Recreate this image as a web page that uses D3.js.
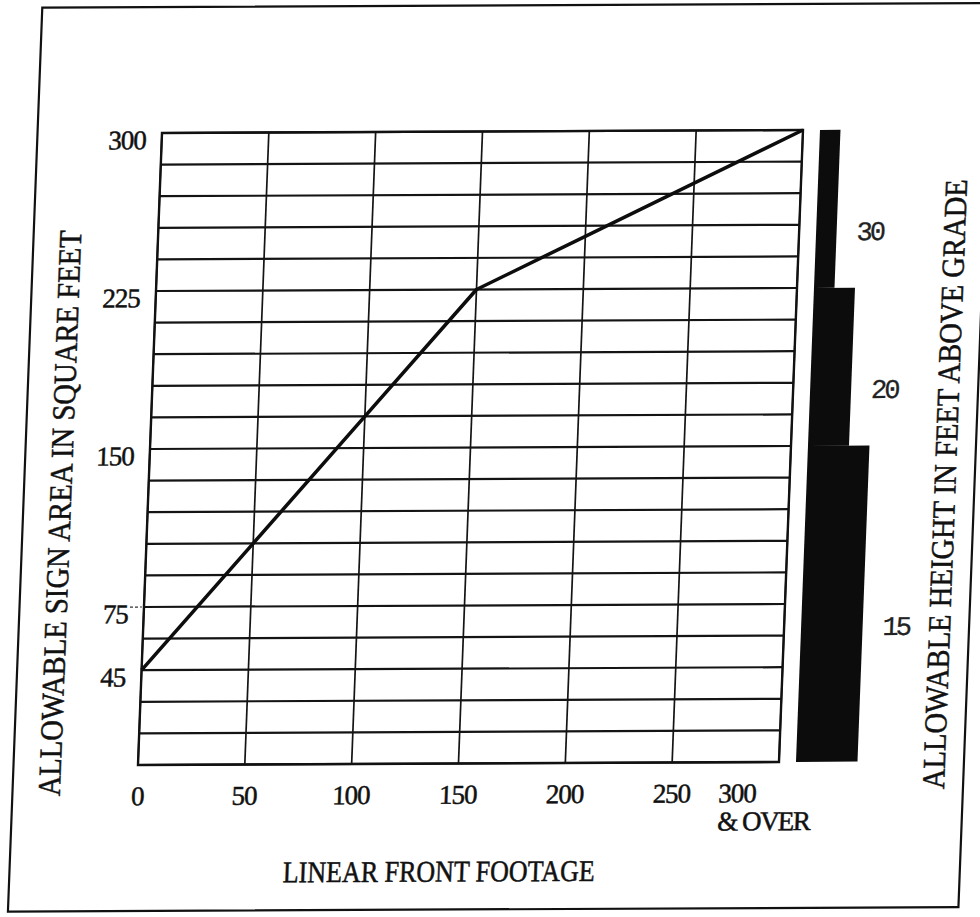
<!DOCTYPE html>
<html>
<head>
<meta charset="utf-8">
<script src="https://cdn.jsdelivr.net/npm/d3@7"></script>
<style>
  html, body { margin: 0; padding: 0; background: #fff; }
  svg { display: block; }
</style>
</head>
<body>
<div id="chart"></div>
<script>
// sign area allowed for a given linear front footage
const footage = [0, 50, 100, 150, 200, 250, 300];
const signArea = [45, 105, 165, 225, 250, 275, 300];

const xTicks = [0, 50, 100, 150, 200, 250, 300];
const yTicks = [45, 75, 150, 225, 300];

// allowable height bar (area range -> height label, relative bar width)
const heightFrom = [225, 150, 0];
const heightTo = [300, 225, 150];
const heightLabels = ["30", "20", "15"];
const heightWidthUnits = [1, 2, 3];

const width = 980;
const height = 917;

const serif = "'Liberation Serif', 'DejaVu Serif', serif";

const svg = d3.select("#chart")
    .append("svg")
    .attr("width", width)
    .attr("height", height);

// the original is a slightly skewed scan, so tilt the whole sheet a little
const g = svg.append("g")
    .attr("transform", "matrix(1,-0.0047,-0.038,1,5.05,0.76)");

const x = d3.scaleLinear()
    .domain([0, 300])
    .range([162, 803]);

const y = d3.scaleLinear()
    .domain([0, 300])
    .range([765, 133]);

// page border
g.append("rect")
    .attr("x", 37.5)
    .attr("y", 7)
    .attr("width", 950.5)
    .attr("height", 904)
    .attr("fill", "none")
    .attr("stroke", "#111")
    .attr("stroke-width", 2.2);

// grid
g.append("g")
    .selectAll("line")
    .data(d3.range(0, 301, 15))
    .join("line")
    .attr("x1", x(0))
    .attr("x2", x(300))
    .attr("y1", d => y(d))
    .attr("y2", d => y(d))
    .attr("stroke", "#141414")
    .attr("stroke-width", 2.2);

g.append("g")
    .selectAll("line")
    .data(xTicks)
    .join("line")
    .attr("x1", d => x(d))
    .attr("x2", d => x(d))
    .attr("y1", y(0))
    .attr("y2", y(300))
    .attr("stroke", "#141414")
    .attr("stroke-width", 1.7);

g.append("rect")
    .attr("x", x(0))
    .attr("y", y(300))
    .attr("width", x(300) - x(0))
    .attr("height", y(0) - y(300))
    .attr("fill", "none")
    .attr("stroke", "#111")
    .attr("stroke-width", 2.4);

// small dashed tick beside the 75 label
g.append("line")
    .attr("x1", x(0) - 14)
    .attr("x2", x(0) - 2)
    .attr("y1", y(75))
    .attr("y2", y(75))
    .attr("stroke", "#333")
    .attr("stroke-width", 1.2)
    .attr("stroke-dasharray", "3,2");

// axes (labels only)
const yAxis = g.append("g")
    .attr("transform", `translate(${x(0)},0)`)
    .call(d3.axisLeft(y).tickValues(yTicks).tickSize(0).tickPadding(16));

const xAxis = g.append("g")
    .attr("transform", `translate(0,${y(0)})`)
    .call(d3.axisBottom(x).tickValues(xTicks).tickSize(0).tickPadding(21));

[yAxis, xAxis].forEach(a => {
    a.select(".domain").remove();
    a.selectAll("text")
        .attr("font-family", serif)
        .attr("font-size", 27)
        .attr("letter-spacing", -1)
        .attr("fill", "#111")
        .attr("stroke", "#111")
        .attr("stroke-width", 0.5);
});

yAxis.selectAll("text").attr("dy", "0.58em");

const last = xAxis.selectAll(".tick text").filter(d => d === 300);
last.text(null)
    .attr("text-anchor", "start");
last.append("tspan")
    .attr("x", -60)
    .text("300");
last.append("tspan")
    .attr("x", -60)
    .attr("dy", 28)
    .attr("letter-spacing", -1.5)
    .text("& OVER");

// sign area line
const line = d3.line()
    .x((d, i) => x(footage[i]))
    .y(d => y(d));

g.append("path")
    .datum(signArea)
    .attr("d", line)
    .attr("fill", "none")
    .attr("stroke", "#0d0d0d")
    .attr("stroke-width", 3.6)
    .attr("stroke-linejoin", "round");

// allowable height bar
const barLeft = x(300) + 17;
const barW = d3.scaleLinear().domain([0, 3]).range([0, 61.5]);

const steps = heightLabels.map((label, i) => ({
    label,
    from: heightFrom[i],
    to: heightTo[i],
    units: heightWidthUnits[i]
}));

g.append("g")
    .selectAll("rect")
    .data(steps)
    .join("rect")
    .attr("x", barLeft)
    .attr("y", d => y(d.to))
    .attr("width", d => barW(d.units))
    .attr("height", d => y(d.from) - y(d.to))
    .attr("fill", "#0c0c0c");

g.append("g")
    .selectAll("text")
    .data(steps)
    .join("text")
    .attr("x", d => barLeft + barW(d.units) + 20)
    .attr("y", d => y((d.from + d.to) / 2) + 22)
    .attr("dy", "0.35em")
    .attr("font-family", "'Liberation Mono', 'DejaVu Sans Mono', monospace")
    .attr("font-size", 27)
    .attr("letter-spacing", -3)
    .attr("fill", "#222")
    .attr("stroke", "#222")
    .attr("stroke-width", 0.3)
    .text(d => d.label);

// titles
const titleStyle = sel => sel
    .attr("font-family", serif)
    .attr("font-size", 32)
    .attr("lengthAdjust", "spacingAndGlyphs")
    .attr("fill", "#111")
    .attr("stroke", "#111")
    .attr("stroke-width", 0.5);

g.append("text")
    .attr("transform", "translate(85,513) rotate(-90)")
    .attr("text-anchor", "middle")
    .attr("textLength", 566)
    .call(titleStyle)
    .text("ALLOWABLE SIGN AREA IN SQUARE FEET");

g.append("text")
    .attr("transform", "translate(969,488) rotate(-90)")
    .attr("text-anchor", "middle")
    .attr("textLength", 610)
    .call(titleStyle)
    .text("ALLOWABLE HEIGHT IN FEET ABOVE GRADE");

g.append("text")
    .attr("x", 467)
    .attr("y", 883)
    .attr("text-anchor", "middle")
    .attr("textLength", 312)
    .call(titleStyle)
    .attr("font-size", 30)
    .text("LINEAR FRONT FOOTAGE");
</script>
</body>
</html>
